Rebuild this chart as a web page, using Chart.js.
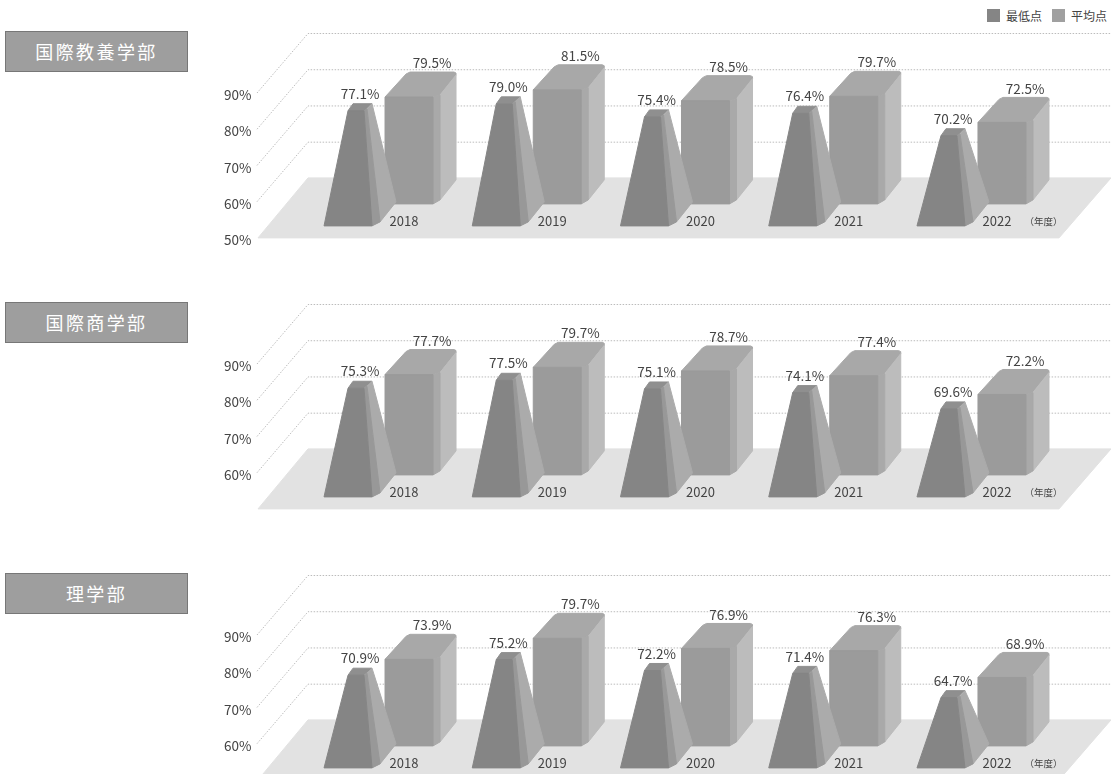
<!DOCTYPE html>
<html lang="ja">
<head>
<meta charset="utf-8">
<title>学部別 最低点・平均点</title>
<script src="https://cdn.jsdelivr.net/npm/chart.js@4"></script>
<style>
    html, body { margin: 0; padding: 0; background: #fff; }
    body { position: relative; width: 1111px; height: 774px; overflow: hidden; font-family: "Noto Sans CJK JP", sans-serif; }
    canvas { position: absolute; left: 0; }
    .title {
        position: absolute; left: 5px; width: 181px; height: 39px; line-height: 38px;
        background: #9e9e9e; border: 1px solid #777; color: #fff; text-align: center;
        font-size: 18px; letter-spacing: 2.4px;
    }
    .legend { position: absolute; top: 9px; left: 987px; font-size: 12px; line-height: 13px; color: #444; white-space: nowrap; }
    .legend span { display: inline-block; }
    .legend i { display: inline-block; width: 13px; height: 13px; margin-right: 6px; vertical-align: top; }
    .legend span + span { margin-left: 10px; }
</style>
</head>
<body>
<div class="legend" id="legend"></div>

<script>
const years = ['2018', '2019', '2020', '2021', '2022'];
const seriesNames = ['最低点', '平均点'];
const seriesColors = ['#858585', '#a0a0a0'];

const faculties = ['国際教養学部', '国際商学部', '理学部'];

const lowKyoyo = [77.1, 79.0, 75.4, 76.4, 70.2];
const avgKyoyo = [79.5, 81.5, 78.5, 79.7, 72.5];
const lowShogaku = [75.3, 77.5, 75.1, 74.1, 69.6];
const avgShogaku = [77.7, 79.7, 78.7, 77.4, 72.2];
const lowRigaku = [70.9, 75.2, 72.2, 71.4, 64.7];
const avgRigaku = [73.9, 79.7, 76.9, 76.3, 68.9];

const panels = [
    { low: lowKyoyo, avg: avgKyoyo, top: 0, boxTop: 31, floorLabel: true },
    { low: lowShogaku, avg: avgShogaku, top: 271, boxTop: 302, floorLabel: false },
    { low: lowRigaku, avg: avgRigaku, top: 542, boxTop: 573, floorLabel: false }
];

const labelFont = '13.5px "Noto Sans CJK JP", sans-serif';
const textColor = '#444';

function poly(ctx, pts, color) {
    ctx.beginPath();
    pts.forEach((p, i) => i ? ctx.lineTo(p[0], p[1]) : ctx.moveTo(p[0], p[1]));
    ctx.closePath();
    ctx.fillStyle = color;
    ctx.strokeStyle = color;
    ctx.lineWidth = 1;
    ctx.lineJoin = 'round';
    ctx.fill();
    ctx.stroke();
}

// floor and the receding grid lines
const backdrop = {
    id: 'backdrop',
    beforeDraw(chart) {
        const { ctx, scales: { y } } = chart;
        const floorFront = y.getPixelForValue(50);
        ctx.save();
        poly(ctx, [[258, floorFront], [308, floorFront - 60], [1111, floorFront - 60], [1059, floorFront]], '#e2e2e2');

        ctx.strokeStyle = '#bcbcbc';
        ctx.lineWidth = 1;
        ctx.setLineDash([1.5, 1.5]);
        y.ticks.forEach(t => {
            if (t.value === 50) return;
            const py = y.getPixelForValue(t.value);
            ctx.beginPath();
            ctx.moveTo(257, py);
            ctx.lineTo(308, py - 59.5);
            ctx.lineTo(1111, py - 59.5);
            ctx.stroke();
        });
        ctx.restore();
    }
};

// the 3D bars, built from the bar elements chart.js laid out
const bars3d = {
    id: 'bars3d',
    beforeDatasetsDraw(chart) {
        const { ctx, scales: { y, x } } = chart;
        const lowMeta = chart.getDatasetMeta(0);
        const avgMeta = chart.getDatasetMeta(1);
        const base = y.getPixelForValue(50);
        ctx.save();

        avgMeta.data.forEach(bar => {
            const L = bar.x - bar.width / 2, R = bar.x + bar.width / 2;
            const T = bar.y - 34, B = base - 34;
            poly(ctx, [[L, T], [R, T], [R + 7, T - 2], [R + 23, T - 22], [R + 23, T - 24], [R + 21, T - 25], [L + 25, T - 25], [L + 21, T - 23]], '#a8a8a8');
            poly(ctx, [[R + 7, T - 2], [R + 23, T - 22], [R + 23, B - 24], [R + 7, B - 4]], '#bcbcbc');
            poly(ctx, [[R, T], [R + 7, T - 2], [R + 7, B - 4], [R, B]], '#a9a9a9');
            poly(ctx, [[L, T], [R, T], [R, B], [L, B]], '#9b9b9b');
        });

        lowMeta.data.forEach(bar => {
            const L = bar.x - bar.width / 2, R = bar.x + bar.width / 2;
            const T = bar.y - 29, B = base - 12;
            poly(ctx, [[L + 24, T], [R - 8, T], [R, T - 7], [L + 29, T - 7]], '#8f8f8f');
            poly(ctx, [[R - 5, T - 2], [R, T - 7], [R + 24, B - 24], [R + 8, B - 4]], '#ababab');
            poly(ctx, [[R - 8, T], [R - 5, T - 2], [R + 8, B - 4], [R, B]], '#989898');
            poly(ctx, [[L + 24, T], [R - 8, T], [R, B], [L, B]], '#858585');
        });

        // value labels above the top faces
        ctx.font = labelFont;
        ctx.fillStyle = textColor;
        ctx.textAlign = 'center';
        ctx.textBaseline = 'middle';
        lowMeta.data.forEach((bar, i) => {
            const v = chart.data.datasets[0].data[i];
            ctx.fillText(v.toFixed(1) + '%', bar.x + 12, bar.y - 29 - 17);
        });
        avgMeta.data.forEach((bar, i) => {
            const v = chart.data.datasets[1].data[i];
            ctx.fillText(v.toFixed(1) + '%', bar.x + 23, bar.y - 34 - 34);
        });

        // unit next to the last year
        const last = x.getPixelForTick(x.ticks.length - 1);
        ctx.font = '9.5px "Noto Sans CJK JP", sans-serif';
        ctx.fillText('（年度）', last + 72, base - 17);

        ctx.restore();
        return false; // the flat default bars are not drawn
    }
};

panels.forEach((panel, idx) => {
    const title = document.createElement('div');
    title.className = 'title';
    title.style.top = panel.boxTop + 'px';
    title.textContent = faculties[idx];
    document.body.appendChild(title);

    const canvas = document.createElement('canvas');
    canvas.width = 1111;
    // the big y tick padding also counts as bottom padding in the layout, 61px
    canvas.height = 299;
    canvas.style.top = panel.top + 'px';
    document.body.appendChild(canvas);

    new Chart(canvas.getContext('2d'), {
        type: 'bar',
        data: {
            labels: years,
            datasets: [
                { label: seriesNames[0], data: panel.low, backgroundColor: seriesColors[0] },
                { label: seriesNames[1], data: panel.avg, backgroundColor: seriesColors[1] }
            ]
        },
        options: {
            responsive: false,
            animation: false,
            devicePixelRatio: 1,
            barPercentage: 0.787,
            categoryPercentage: 0.823,
            layout: { padding: { left: 204.4, right: 65.4, top: 93, bottom: 0 } },
            plugins: { legend: { display: false }, tooltip: { enabled: false } },
            scales: {
                x: {
                    grid: { display: false, drawTicks: false },
                    border: { display: false },
                    ticks: {
                        autoSkip: false,
                        maxRotation: 0,
                        labelOffset: 25.5,
                        padding: -25,
                        color: textColor,
                        font: { family: '"Noto Sans CJK JP", sans-serif', size: 13 }
                    }
                },
                y: {
                    min: 50,
                    max: 90,
                    grid: { display: false, drawTicks: false },
                    border: { display: false },
                    afterFit: scale => { scale.width = 100; },
                    ticks: {
                        stepSize: 10,
                        padding: 53,
                        labelOffset: 2,
                        color: textColor,
                        font: { family: '"Noto Sans CJK JP", sans-serif', size: 13.5 },
                        callback: v => (v === 50 && !panel.floorLabel) ? '' : v + '%'
                    }
                }
            }
        },
        plugins: [backdrop, bars3d]
    });
});

// legend
const legend = document.getElementById('legend');
seriesNames.forEach((name, i) => {
    const item = document.createElement('span');
    const box = document.createElement('i');
    box.style.background = seriesColors[i];
    item.appendChild(box);
    item.appendChild(document.createTextNode(name));
    legend.appendChild(item);
});
</script>
</body>
</html>
